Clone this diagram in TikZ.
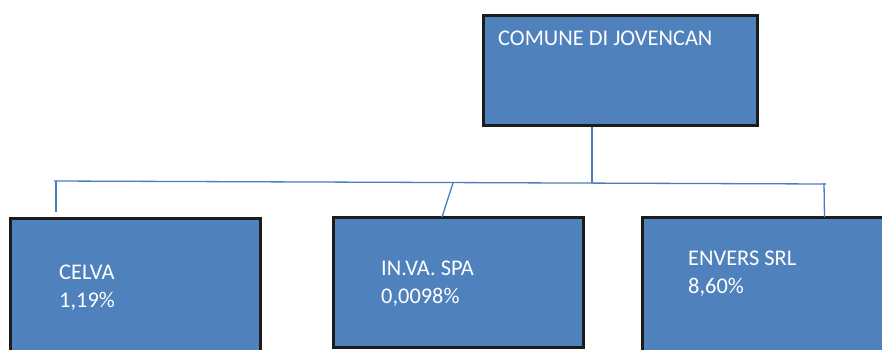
\documentclass[tikz,border=0pt]{standalone}
\usepackage{fontspec}
\setmainfont{Carlito}
\definecolor{boxfill}{HTML}{4F81BD}
\definecolor{linkcol}{HTML}{4A7EBB}
\definecolor{edgecol}{HTML}{1C1C1C}
\begin{document}
\begin{tikzpicture}[x=1pt,y=-1pt,
  orgbox/.style={draw=edgecol, fill=boxfill, line width=3pt, rectangle, inner sep=0pt},
  lbl/.style={text=white, font=\fontsize{22.4}{28}\selectfont, align=left, inner sep=0pt, anchor=base west},
  link/.style={draw=linkcol, line width=1.3pt}]
\useasboundingbox (0,0) rectangle (882,349);
\clip (0,0) rectangle (882,349);
% boxes
\node[orgbox, minimum width=274pt, minimum height=110pt] (top) at (620,70) {};
\node[orgbox, minimum width=250pt, minimum height=150pt] (celva) at (135,293) {};
\node[orgbox, minimum width=250pt, minimum height=130pt] (inva) at (458,282) {};
\node[orgbox, minimum width=270pt, minimum height=150pt] (envers) at (777,292) {};
% labels (base = baseline of last line)
\node[lbl] (ttop) at (498,45) {COMUNE DI JOVENCAN};
\node[lbl] (tcelva) at (59,307) {CELVA\\1,19\%};
\node[lbl] (tinva) at (381,303) {IN.VA. SPA\\0,0098\%};
\node[lbl] (tenvers) at (688,293) {ENVERS SRL\\8,60\%};
% connectors
\coordinate (hl) at (54,181);
\coordinate (hr) at (826,184);
\coordinate (jtop) at (592,183);
\coordinate (jc) at (56,181);
\coordinate (jc2) at (56,212);
\coordinate (ji) at (453,183);
\coordinate (ji2) at (442,217);
\coordinate (je) at (824,183);
\coordinate (je2) at (824.5,217);
\draw[link] (top.south -| jtop) -- (jtop);
\draw[link] (hl) -- (hr);
\draw[link] (jc) -- (jc2);
\draw[link] (ji) -- (ji2);
\draw[link] (je) -- (je2);
\end{tikzpicture}
\end{document}
